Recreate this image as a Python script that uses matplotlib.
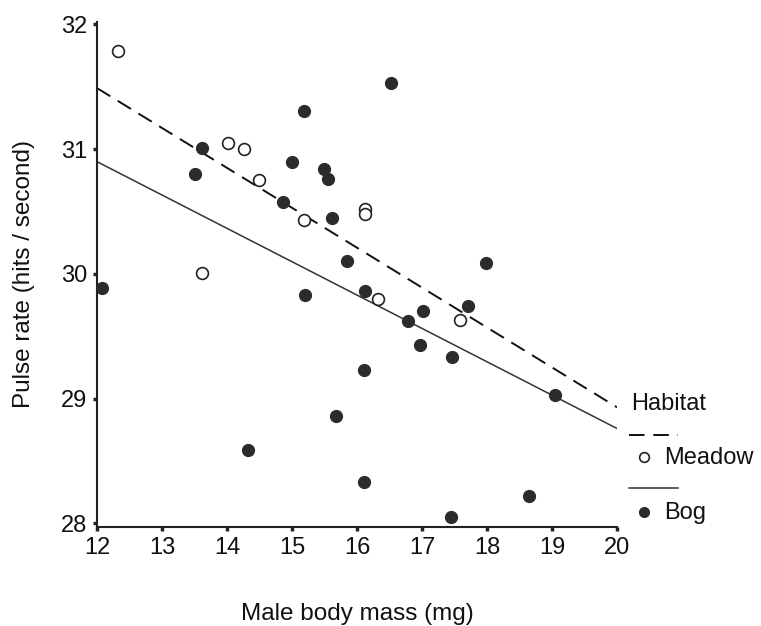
import matplotlib
matplotlib.use("Agg")
import matplotlib.pyplot as plt
from matplotlib.lines import Line2D

plt.rcParams['font.family'] = ['Liberation Sans', 'DejaVu Sans']

# Data (male body mass mg, pulse rate hits/s)
meadow_x = [12.32, 14.02, 14.26, 14.49, 13.62, 15.18, 16.13, 16.13, 16.33, 17.59]
meadow_y = [31.79, 31.05, 31.00, 30.75, 30.01, 30.43, 30.52, 30.48, 29.80, 29.63]

bog_x = [13.62, 13.50, 12.07, 14.32, 16.52, 15.18, 15.00, 15.49, 15.56, 14.86,
         15.62, 15.85, 15.20, 16.12, 17.02, 16.78, 16.97, 17.46, 16.10, 15.68,
         16.11, 17.44, 17.99, 17.71, 19.05, 18.64]
bog_y = [31.01, 30.80, 29.89, 28.59, 31.53, 31.31, 30.90, 30.84, 30.76, 30.58,
         30.45, 30.10, 29.83, 29.86, 29.70, 29.62, 29.43, 29.33, 29.23, 28.86,
         28.33, 28.05, 30.09, 29.74, 29.03, 28.22]

fit_x = [12, 20]
meadow_fit = [31.49, 28.93]
bog_fit = [30.90, 28.76]

xticks = [12, 13, 14, 15, 16, 17, 18, 19, 20]
yticks = [28, 29, 30, 31, 32]

W, H = 761, 626
fig = plt.figure(figsize=(W / 100, H / 100), dpi=100)
ax = fig.add_axes([97 / W, 1 - 527 / H, (617 - 97) / W, (527 - 22) / H])

ax.plot(fit_x, meadow_fit, color='#111111', lw=1.4, ls=(0, (8, 4.5)), zorder=2)
ax.plot(fit_x, bog_fit, color='#333333', lw=1.1, ls='-', zorder=2)

ax.plot(bog_x, bog_y, 'o', ms=8.5, mfc='#2b2b2b', mec='#2b2b2b', zorder=3, clip_on=False)
ax.plot(meadow_x, meadow_y, 'o', ms=8.5, mfc='white', mec='#222222', mew=1.2, zorder=4, clip_on=False)

ax.set_xlim(12, 20)
ax.set_ylim(27.97, 32.02)
ax.set_xticks(xticks)
ax.set_yticks(yticks)
ax.spines['top'].set_visible(False)
ax.spines['right'].set_visible(False)
for s in ['left', 'bottom']:
    ax.spines[s].set_linewidth(1.5)
    ax.spines[s].set_color('#222222')
ax.tick_params(direction='out', length=3, width=2.5, colors='#222222', labelsize=17, pad=4)
for lab in ax.get_xticklabels() + ax.get_yticklabels():
    lab.set_color('#111111')

ax.set_xlabel('Male body mass (mg)', fontsize=17.5, labelpad=32, color='#111111')
ax.set_ylabel('Pulse rate (hits / second)', fontsize=17.5, labelpad=19, color='#111111')

# Legend drawn manually
def fx(px):
    return px / W

def fy(py):
    return 1 - py / H

fig.text(fx(631), fy(404), 'Habitat', fontsize=17, va='center', ha='left', color='#111111')
fig.add_artist(Line2D([fx(629), fx(678)], [fy(435), fy(435)], color='#111111', lw=1.4,
                      ls=(0, (8, 4.5))))
fig.add_artist(Line2D([fx(644)], [fy(457)], marker='o', ms=7, mfc='white', mec='#222222',
                      mew=1.2, ls='none'))
fig.text(fx(664), fy(458), 'Meadow', fontsize=17, va='center', ha='left', color='#111111')
fig.add_artist(Line2D([fx(629), fx(678)], [fy(488), fy(488)], color='#333333', lw=1.1))
fig.add_artist(Line2D([fx(644)], [fy(512)], marker='o', ms=7, mfc='#2b2b2b', mec='#2b2b2b',
                      ls='none'))
fig.text(fx(664), fy(513), 'Bog', fontsize=17, va='center', ha='left', color='#111111')

fig.savefig('out.png', dpi=100)
